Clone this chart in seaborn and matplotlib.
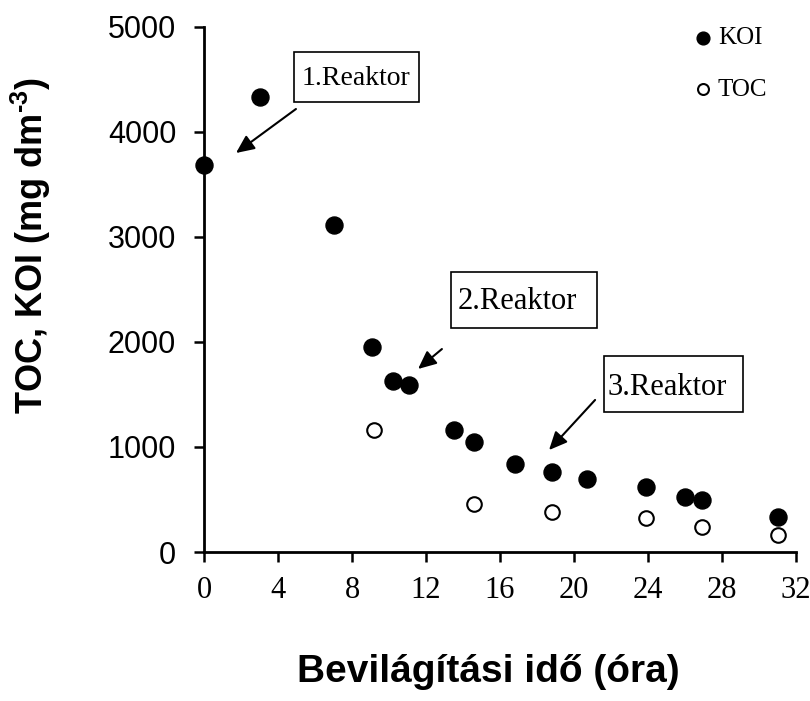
import matplotlib
matplotlib.use("Agg")
import matplotlib.pyplot as plt
from matplotlib.path import Path
import seaborn as sns
import pandas as pd

# Data
koi_time = [0.0, 3.0, 7.0, 9.1, 10.2, 11.1, 13.5, 14.6, 16.8, 18.8, 20.7, 23.9, 26.0, 26.9, 31.0]
koi_vals = [3690, 4330, 3110, 1950, 1630, 1590, 1160, 1050, 840, 760, 700, 620, 520, 500, 330]
toc_time = [9.2, 14.6, 18.8, 23.9, 26.9, 31.0]
toc_vals = [1160, 460, 380, 320, 240, 160]

x_ticks = [0, 4, 8, 12, 16, 20, 24, 28, 32]
y_ticks = [0, 1000, 2000, 3000, 4000, 5000]

reactor_labels = ["1.Reaktor", "2.Reaktor", "3.Reaktor"]
# annotation placement (data coordinates): text baseline-centre, arrow tail, arrow head
reactor_text_pos = [(8.24, 4448), (16.92, 2311), (25.05, 1495)]
reactor_arrow_from = [(4.97, 4219), (12.86, 1933), (21.14, 1448)]
reactor_arrow_to = [(1.73, 3800), (11.57, 1743), (18.65, 971)]
reactor_fontsize = [20, 22, 22]
# box padding (left, right, bottom, top) in font-size units
reactor_box_pad = [(0.29, 0.29, 0.40, 0.50), (0.20, 0.65, 0.39, 0.50), (0.13, 0.52, 0.34, 0.56)]


def pad_box(left, right, bottom, top):
    def box(x0, y0, width, height, mutation_size):
        xa = x0 - left * mutation_size
        xb = x0 + width + right * mutation_size
        ya = y0 - bottom * mutation_size
        yb = y0 + height + top * mutation_size
        return Path([(xa, ya), (xb, ya), (xb, yb), (xa, yb), (xa, ya)], closed=True)
    return box


sns.set_style("ticks")
plt.rcParams["text.color"] = "black"
plt.rcParams["axes.labelcolor"] = "black"
plt.rcParams["xtick.color"] = "black"
plt.rcParams["ytick.color"] = "black"
plt.rcParams["mathtext.fontset"] = "custom"
plt.rcParams["mathtext.rm"] = "Liberation Sans:bold"
plt.rcParams["mathtext.bf"] = "Liberation Sans:bold"

df_koi = pd.DataFrame({"t": koi_time, "v": koi_vals})
df_toc = pd.DataFrame({"t": toc_time, "v": toc_vals})

W, H = 810, 701
fig = plt.figure(figsize=(W / 100, H / 100), dpi=100)
ax = fig.add_axes([204 / W, 1 - 552 / H, 592 / W, 525 / H])

sns.scatterplot(data=df_koi, x="t", y="v", ax=ax, color="black", s=150,
                edgecolor="black", linewidth=1, label="KOI", clip_on=False, zorder=3)
sns.scatterplot(data=df_toc, x="t", y="v", ax=ax, facecolor="white", s=110,
                edgecolor="black", linewidth=1.5, label="TOC", clip_on=False, zorder=3)

ax.set_xlim(0, 32)
ax.set_ylim(0, 5000)
ax.set_xticks(x_ticks)
ax.set_yticks(y_ticks)
ax.set_xticklabels([str(v) for v in x_ticks], fontfamily="Liberation Serif", fontsize=22)
ax.set_yticklabels([str(v) for v in y_ticks], fontfamily="Liberation Sans", fontsize=22)
ax.tick_params(axis="both", direction="out", length=7, width=1.8, color="black")
ax.tick_params(axis="x", pad=10)
ax.tick_params(axis="y", pad=13)

for side in ["top", "right"]:
    ax.spines[side].set_visible(False)
for side in ["left", "bottom"]:
    ax.spines[side].set_linewidth(2.0)
    ax.spines[side].set_color("black")

ax.set_xlabel("")
ax.set_ylabel("")
fig.text(488 / W, 1 - 682 / H, "Bevilágítási idő (óra)", fontfamily="Liberation Sans",
         fontweight="bold", fontsize=28, ha="center", va="baseline")
fig.text(31 / W, 1 - 245 / H, "TOC, KOI (mg dm$^{\\text{-3}}$)", fontfamily="Liberation Sans",
         fontweight="bold", fontsize=26, rotation=90, ha="center", va="center")

for lab, tp, af, at, fs, pads in zip(reactor_labels, reactor_text_pos, reactor_arrow_from,
                                     reactor_arrow_to, reactor_fontsize, reactor_box_pad):
    ax.text(tp[0], tp[1], lab, fontfamily="Liberation Serif", fontsize=fs,
            ha="center", va="baseline",
            bbox=dict(boxstyle=pad_box(*pads), facecolor="white", edgecolor="black", linewidth=1.2))
    ax.annotate("", xy=at, xytext=af,
                arrowprops=dict(arrowstyle="-|>,head_length=1.1,head_width=0.5",
                                color="black", linewidth=1.5, shrinkA=0, shrinkB=0))

leg = ax.legend(loc="upper left", bbox_to_anchor=((683 - 204) / 592, (552 - 17) / 525),
                frameon=False, prop={"family": "Liberation Serif", "size": 18},
                handlelength=0.8, handletextpad=0.2, labelspacing=1.15,
                markerscale=0.75, borderaxespad=0, borderpad=0.4)

fig.savefig("out.png", dpi=100)
